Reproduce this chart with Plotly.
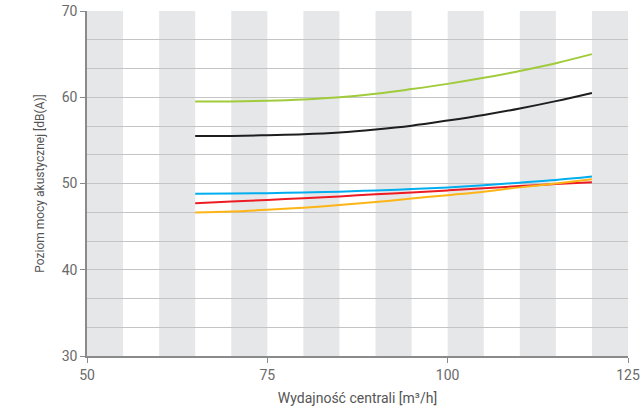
import plotly.graph_objects as go

x_vals = [65, 70, 75, 80, 85, 90, 95, 100, 105, 110, 115, 120]
green = [59.5, 59.52, 59.6, 59.75, 60.0, 60.4, 60.95, 61.55, 62.25, 63.05, 63.95, 65.0]
black = [55.5, 55.52, 55.6, 55.7, 55.9, 56.25, 56.7, 57.3, 57.95, 58.7, 59.55, 60.5]
blue = [48.8, 48.83, 48.88, 48.95, 49.05, 49.2, 49.35, 49.55, 49.8, 50.1, 50.4, 50.8]
red = [47.7, 47.9, 48.1, 48.3, 48.5, 48.75, 48.95, 49.2, 49.45, 49.7, 49.95, 50.15]
orange = [46.65, 46.75, 46.95, 47.2, 47.5, 47.85, 48.25, 48.65, 49.05, 49.55, 50.0, 50.5]

series = [
    ("green", green, "#a0cb3a"),
    ("black", black, "#1e1e1e"),
    ("blue", blue, "#00aeef"),
    ("red", red, "#ed1c24"),
    ("orange", orange, "#fdb515"),
]

band_starts = [50, 60, 70, 80, 90, 100, 110, 120]
band_width = 5

x_title = "Wydajność centrali [m³/h]"
y_title = "Poziom mocy akustycznej [dB(A)]"

fig = go.Figure()
for name, ys, col in series:
    fig.add_trace(go.Scatter(x=x_vals, y=ys, mode="lines", name=name,
                             line=dict(color=col, width=2, shape="spline"),
                             showlegend=False, hoverinfo="skip"))

for b in band_starts:
    fig.add_shape(type="rect", xref="x", yref="paper", x0=b, x1=b + band_width,
                  y0=0, y1=1, fillcolor="#e6e7e9", line=dict(width=0), layer="below")

fig.update_layout(
    width=642, height=419,
    margin=dict(l=87, r=14, t=11, b=63, autoexpand=False),
    plot_bgcolor="white", paper_bgcolor="white",
    font=dict(family="Roboto", color="#666666", size=13),
    xaxis=dict(range=[50, 125], tickvals=[50, 75, 100, 125], showgrid=False,
               zeroline=False, showline=True, linecolor="#8a8a8a", linewidth=1.5,
               ticks="outside", ticklen=5, tickcolor="#8a8a8a", automargin=False,
               tickfont=dict(size=14, color="#6a6a6a"),
               title=dict(text=x_title, font=dict(size=14, color="#555555"), standoff=12)),
    yaxis=dict(range=[30, 70], dtick=10, showgrid=True, gridcolor="#c4c4c4", gridwidth=1,
               zeroline=False, showline=True, linecolor="#8a8a8a", linewidth=1.5,
               ticks="outside", ticklen=5, tickcolor="#8a8a8a", automargin=False,
               tickfont=dict(size=14, color="#6a6a6a"),
               minor=dict(dtick=10 / 3, showgrid=True, gridcolor="#c4c4c4", gridwidth=1),
               title=dict(text=y_title, font=dict(size=12, color="#555555"), standoff=15)),
)

fig.write_html("out.html", config={"displayModeBar": False},
               post_script="document.body.style.margin='0';document.body.style.overflow='hidden';")
